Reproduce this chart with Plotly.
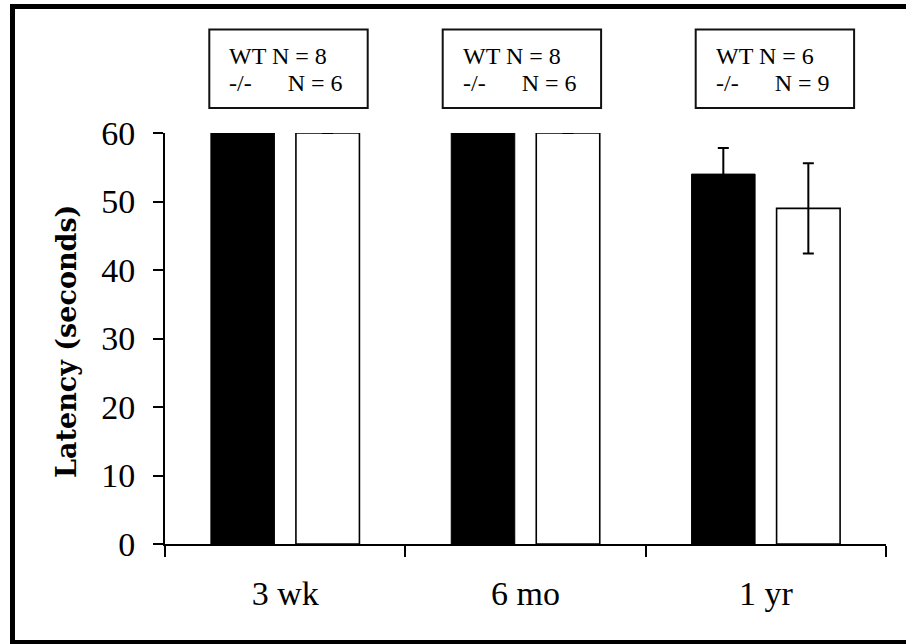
import plotly.graph_objects as go

# Escape latency by age group, wild-type vs knockout
ages = ["3 wk", "6 mo", "1 yr"]
wt_latency = [60, 60, 54.0]
ko_latency = [60, 60, 49.0]
wt_sem = [0, 0, 3.8]
ko_sem = [0, 0, 6.6]
wt_n = [8, 8, 6]
ko_n = [6, 6, 9]
y_ticks = [0, 10, 20, 30, 40, 50, 60]

SERIF = "Liberation Serif"

fig = go.Figure()
fig.add_trace(go.Bar(
    x=ages, y=wt_latency, name="WT",
    marker=dict(color="black", line=dict(color="black", width=1)),
    error_y=dict(type="data", array=wt_sem, visible=True,
                 color="black", thickness=2, width=5.5),
))
fig.add_trace(go.Bar(
    x=ages, y=ko_latency, name="-/-",
    marker=dict(color="white", line=dict(color="black", width=1.6)),
    error_y=dict(type="data", array=ko_sem, visible=True,
                 color="black", thickness=2, width=5.5),
))

# plot-area geometry in pixels, used to place boxes in paper units
L, T, W, H = 165, 133, 721, 411


def px_x(p):
    return (p - L) / W


def px_y(p):
    return (T + H - p) / H


shapes = []
annotations = []

# sample-size boxes above each age group
box_left = [209.3, 442.7, 695.7]
box_width = 158.4
for i in range(len(ages)):
    x0 = box_left[i]
    shapes.append(dict(
        type="rect", xref="paper", yref="paper",
        x0=px_x(x0), x1=px_x(x0 + box_width),
        y0=px_y(108), y1=px_y(29.5),
        line=dict(color="#111", width=2), fillcolor="white", layer="above",
    ))
    annotations.append(dict(
        xref="paper", yref="paper", x=px_x(x0 + 18), y=px_y(56),
        xanchor="left", yanchor="middle", showarrow=False,
        text=f"WT N = {wt_n[i]}", font=dict(family=SERIF, size=24, color="black"),
    ))
    annotations.append(dict(
        xref="paper", yref="paper", x=px_x(x0 + 18), y=px_y(82.5),
        xanchor="left", yanchor="middle", showarrow=False,
        text="-/-" + "\u00a0" * 6 + f"N = {ko_n[i]}",
        font=dict(family=SERIF, size=24, color="black"),
    ))

# y-axis title
annotations.append(dict(
    xref="paper", yref="paper", x=px_x(66), y=px_y(342),
    xanchor="center", yanchor="middle", showarrow=False, textangle=-90,
    text="<b>Latency (seconds)</b>",
    font=dict(family="DejaVu Serif", size=27, color="black"),
))

# outer frame
shapes.append(dict(
    type="rect", xref="paper", yref="paper",
    x0=px_x(12.5), x1=px_x(920), y0=px_y(642.5), y1=px_y(6.5),
    line=dict(color="black", width=5), fillcolor="rgba(0,0,0,0)",
))

fig.update_layout(
    width=906, height=644,
    margin=dict(l=L, r=906 - L - W, t=T, b=644 - T - H),
    paper_bgcolor="white", plot_bgcolor="white",
    barmode="group", bargap=0.2925, bargroupgap=0.253,
    showlegend=False,
    shapes=shapes, annotations=annotations,
    font=dict(family=SERIF, color="black"),
)
fig.update_xaxes(
    type="category", showline=True, linecolor="black", linewidth=2,
    ticks="outside", tickson="boundaries", ticklen=11, tickwidth=2,
    tickcolor="black", tickfont=dict(family=SERIF, size=34, color="black"),
    ticklabelstandoff=18, showgrid=False, zeroline=False,
)
fig.update_yaxes(
    range=[0, 60], tickvals=y_ticks, showline=True, linecolor="black",
    linewidth=2, ticks="outside", ticklen=10, tickwidth=2, tickcolor="black",
    tickfont=dict(family=SERIF, size=34, color="black"),
    ticklabelstandoff=11, showgrid=False, zeroline=False,
)

fig.write_html("out.html")
